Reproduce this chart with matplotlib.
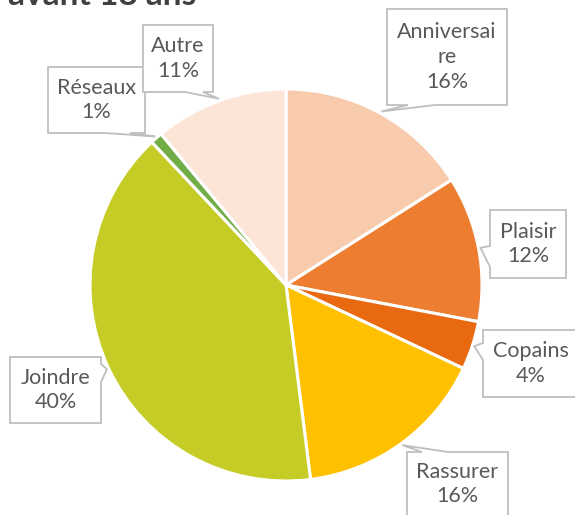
import matplotlib
matplotlib.use("Agg")
import matplotlib.pyplot as plt
import matplotlib.transforms as mtransforms
from matplotlib.patches import Polygon
import numpy as np

plt.rcParams['font.family'] = ['Lato', 'DejaVu Sans']

# data
categories = ["Anniversaire", "Plaisir", "Copains", "Rassurer", "Joindre", "Réseaux", "Autre"]
labels = ["Anniversai\nre", "Plaisir", "Copains", "Rassurer", "Joindre", "Réseaux", "Autre"]
values = [16, 12, 4, 16, 40, 1, 11]
colors = ["#F8CBAD", "#ED7D31", "#E8690F", "#FFC000", "#C5CC26", "#70AD47", "#FCE4D6"]
title = "avant 18 ans"

W, H = 575, 515
cx, cy, R = 286, 285, 196   # pie centre / radius in pixels

# callout boxes, pixel coords from top-left: (x0, y0, x1, y1), side of pointer, base range
boxes = {
    "Anniversaire": ((387, 9, 507, 105), "bottom", (408, 435)),
    "Plaisir": ((490, 210, 566, 278), "left", (246, 267)),
    "Copains": ((483, 330, 578, 397), "left", (343, 360)),
    "Rassurer": ((407, 452, 508, 525), "top", (422, 448)),
    "Joindre": ((10, 357, 101, 423), "right", (364, 382)),
    "Réseaux": ((48, 67, 145, 133), "bottom", (105, 130)),
    "Autre": ((143, 25, 213, 92), "bottom", (185, 203)),
}
text_y = {"Rassurer": 484}

fig = plt.figure(figsize=(W / 100, H / 100), dpi=100)
ax = fig.add_axes([0, 0, 1, 1])
wedges, _ = ax.pie(values, colors=colors, startangle=90, counterclock=False,
                   radius=1, center=(0, 0),
                   wedgeprops=dict(edgecolor="white", linewidth=2.2))
ax.set_xlim(-cx / R, (W - cx) / R)
ax.set_ylim((cy - H) / R, cy / R)
ax.set_aspect("equal")
ax.axis("off")

# pixel transform, origin top-left
pxt = mtransforms.Affine2D().scale(1 / W, -1 / H).translate(0, 1) + fig.transFigure

def callout_poly(box, side, base, tip):
    x0, y0, x1, y1 = box
    b0, b1 = base
    pts = [(x0, y0)]
    if side == "top":
        pts += [(b0, y0), tip, (b1, y0)]
    pts += [(x1, y0)]
    if side == "right":
        pts += [(x1, b0), tip, (x1, b1)]
    pts += [(x1, y1)]
    if side == "bottom":
        pts += [(b1, y1), tip, (b0, y1)]
    pts += [(x0, y1)]
    if side == "left":
        pts += [(x0, b1), tip, (x0, b0)]
    return pts

for w, cat, lab, v in zip(wedges, categories, labels, values):
    box, side, base = boxes[cat]
    mid = np.deg2rad((w.theta1 + w.theta2) / 2)
    tip_d = ax.transData.transform((1.01 * np.cos(mid), 1.01 * np.sin(mid)))
    tip = (tip_d[0], H - tip_d[1])
    poly = Polygon(callout_poly(box, side, base, tip), closed=True,
                   facecolor="white", edgecolor="#BFBFBF", linewidth=1.3,
                   transform=pxt, zorder=3)
    ax.add_patch(poly)
    tx = (box[0] + box[2]) / 2
    ty = text_y.get(cat, (box[1] + box[3]) / 2)
    ax.text(tx, ty, "%s\n%d%%" % (lab, v), transform=pxt, ha="center", va="center",
            multialignment="center", fontsize=15.5, color="#595959",
            linespacing=1.3, zorder=4)

# title sits mostly above the top edge, as in the reference
ax.text(8, 5, title, transform=pxt, ha="left", va="baseline",
        fontsize=24, fontweight="bold", color="#404040")

fig.savefig("out.png", dpi=100)
